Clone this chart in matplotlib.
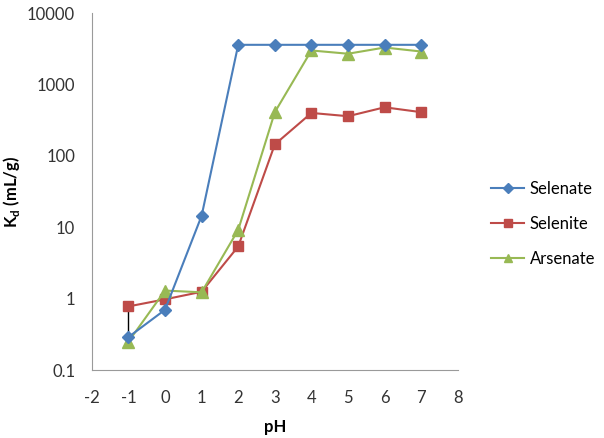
import numpy as np
import matplotlib
matplotlib.use("Agg")
from matplotlib import pyplot as plt

plt.rcParams['font.family'] = ['Lato', 'DejaVu Sans']
plt.rcParams['axes.unicode_minus'] = False

ph = [-1, 0, 1, 2, 3, 4, 5, 6, 7]
selenate = [0.29, 0.70, 14.5, 3600, 3600, 3600, 3600, 3600, 3600]
selenite = [0.78, 0.98, 1.25, 5.4, 145, 400, 360, 480, 410]
arsenate = [0.25, 1.3, 1.23, 9.2, 410, 3000, 2700, 3300, 2900]

fig = plt.figure(figsize=(6.04, 4.38), dpi=100)
ax = fig.add_axes([0.152, 0.155, 0.606, 0.815])

# drop line at pH -1 between the highest and lowest point
ax.vlines(ph[0], min(selenate[0], arsenate[0]), selenite[0], color="black", lw=1, zorder=1)

ax.plot(ph, selenate, color="#4A7EBB", marker="D", ms=6, lw=1.5, label="Selenate", zorder=3)
ax.plot(ph, selenite, color="#BE4B48", marker="s", ms=7.5, lw=1.5, label="Selenite", zorder=2)
ax.plot(ph, arsenate, color="#98B954", marker="^", ms=8, lw=1.5, label="Arsenate", zorder=2)

ax.set_yscale("log")
ax.set_ylim(0.1, 10000)
ax.set_xlim(-2, 8)
ax.set_xticks(range(-2, 9))
ax.set_yticks([0.1, 1, 10, 100, 1000, 10000])
ax.set_yticklabels(["0.1", "1", "10", "100", "1000", "10000"])
ax.minorticks_off()
ax.tick_params(axis="y", length=0, labelsize=12, colors="#333333", pad=12)
ax.tick_params(axis="x", length=0, labelsize=12, colors="#333333", pad=14)

for s in ["top", "right"]:
    ax.spines[s].set_visible(False)
for s in ["left", "bottom"]:
    ax.spines[s].set_color("#9a9a9a")

ax.set_xlabel("pH", fontweight="bold", fontsize=12, labelpad=10)
ax.set_ylabel(r"K$_\mathregular{d}$ (mL/g)", fontweight="bold", fontsize=12)
ax.yaxis.set_label_coords(-0.19, 0.5)

ax.legend(loc="center left", bbox_to_anchor=(1.05, 0.41), frameon=False, fontsize=12,
          handlelength=2.0, labelspacing=1.15, handletextpad=0.3, markerscale=0.8)

fig.savefig("out.png", dpi=100)
